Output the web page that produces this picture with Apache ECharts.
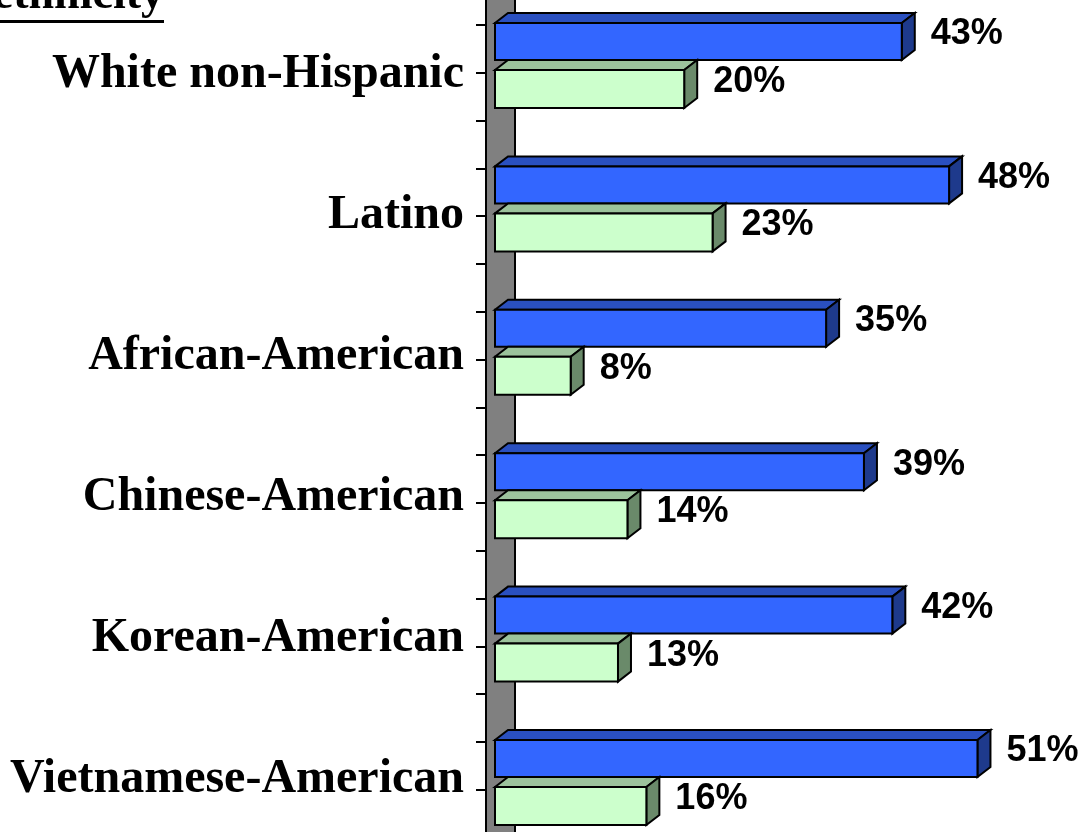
<!DOCTYPE html>
<html>
<head>
<meta charset="utf-8">
<script src="https://cdn.jsdelivr.net/npm/echarts@6/dist/echarts.min.js"></script>
<style>
  html, body { margin: 0; padding: 0; background: #fff; }
  #chart { width: 1090px; height: 832px; }
</style>
</head>
<body>
<div id="chart"></div>
<script>
var categories = ['White non-Hispanic', 'Latino', 'African-American', 'Chinese-American', 'Korean-American', 'Vietnamese-American'];
var blueValues = [43, 48, 35, 39, 42, 51];
var greenValues = [20, 23, 8, 14, 13, 16];
var tickSlots = 17;

var chart = echarts.init(document.getElementById('chart'));

// 3D-looking bar: front rect + top face + side face + value label
function makeBar(front, topColor, side, offTop, offH) {
    return function (params, api) {
        var cat = api.value(0);
        var val = api.value(1);
        var k = api.size([0, 1])[1] / 143.4;
        var p0 = api.coord([0, cat]);
        var p1 = api.coord([val, cat]);
        var x0 = p0[0], x1 = p1[0];
        var y0 = p0[1] + offTop * k;
        var y1 = y0 + offH * k;
        var dx = 13, dy = -10;
        var edge = { stroke: '#000', lineWidth: 2 };
        return {
            type: 'group',
            children: [{
                type: 'polygon',
                shape: { points: [[x0, y0], [x0 + dx, y0 + dy], [x1 + dx, y0 + dy], [x1, y0]] },
                style: Object.assign({ fill: topColor }, edge)
            }, {
                type: 'polygon',
                shape: { points: [[x1, y0], [x1 + dx, y0 + dy], [x1 + dx, y1 + dy], [x1, y1]] },
                style: Object.assign({ fill: side }, edge)
            }, {
                type: 'rect',
                shape: { x: x0, y: y0, width: x1 - x0, height: y1 - y0 },
                style: Object.assign({ fill: front }, edge)
            }, {
                type: 'text',
                x: x1 + 29,
                y: (y0 + y1) / 2 - 7,
                style: {
                    text: val + '%',
                    font: 'bold 36px "Liberation Sans", Arial, sans-serif',
                    fill: '#000',
                    align: 'left', textAlign: 'left',
                    verticalAlign: 'middle', textVerticalAlign: 'middle'
                }
            }]
        };
    };
}

// gray side wall behind the bars
function renderWall(params, api) {
    var cs = params.coordSys;
    var x0 = api.coord([0, 0])[0];
    return {
        type: 'rect',
        shape: { x: x0 - 9, y: cs.y - 12, width: 29, height: cs.height + 24 },
        style: { fill: '#808080', stroke: '#000', lineWidth: 2 }
    };
}

var option = {
    backgroundColor: '#fff',
    animation: false,
    grid: [
        { left: 495, top: 3.3, width: 567.6, height: 860.4, outerBoundsMode: 'none', containLabel: false },
        { left: 486, top: 25, width: 10, height: 47.8 * tickSlots, outerBoundsMode: 'none', containLabel: false },
        { left: 495, top: 4.5, width: 10, height: 846, outerBoundsMode: 'none', containLabel: false }
    ],
    xAxis: [
        { gridIndex: 0, type: 'value', min: 0, max: 60, show: false },
        { gridIndex: 1, type: 'value', show: false },
        { gridIndex: 2, type: 'value', show: false }
    ],
    yAxis: [{
        gridIndex: 0,
        type: 'category',
        inverse: true,
        data: categories,
        show: false
    }, {
        gridIndex: 1,
        type: 'value',
        min: 0,
        max: tickSlots,
        interval: 1,
        axisLine: { show: false },
        axisTick: { show: true, length: 10, lineStyle: { color: '#000', width: 2 } },
        axisLabel: { show: false },
        splitLine: { show: false }
    }, {
        gridIndex: 2,
        type: 'category',
        inverse: true,
        data: categories,
        axisLine: { show: false },
        axisTick: { show: false },
        axisLabel: {
            interval: 0,
            margin: 31,
            color: '#000',
            fontSize: 48,
            fontWeight: 'bold',
            fontFamily: '"Liberation Serif", "Times New Roman", serif'
        }
    }],
    graphic: [{
        type: 'text',
        x: 164,
        y: -4,
        style: {
            text: 'ethnicity',
            font: 'bold 46px "Liberation Serif", "Times New Roman", serif',
            fill: '#000',
            align: 'right', textAlign: 'right',
            verticalAlign: 'middle', textVerticalAlign: 'middle'
        }
    }, {
        type: 'line',
        shape: { x1: 0, y1: 21.5, x2: 164, y2: 21.5 },
        style: { stroke: '#000', lineWidth: 3 }
    }],
    series: [{
        name: 'wall',
        type: 'custom',
        xAxisIndex: 0,
        yAxisIndex: 0,
        z: 1,
        clip: false,
        renderItem: renderWall,
        data: [[0, 0]],
        encode: { x: 1, y: 0 }
    }, {
        name: 'Series 1',
        type: 'custom',
        xAxisIndex: 0,
        yAxisIndex: 0,
        z: 2,
        clip: false,
        renderItem: makeBar('#3366FF', '#2A50C0', '#1E3A8C', -52, 37),
        data: blueValues.map(function (v, i) { return [i, v]; }),
        encode: { x: 1, y: 0 }
    }, {
        name: 'Series 2',
        type: 'custom',
        xAxisIndex: 0,
        yAxisIndex: 0,
        z: 2,
        clip: false,
        renderItem: makeBar('#CCFFCC', '#9CC39C', '#6A8A6A', -5, 38),
        data: greenValues.map(function (v, i) { return [i, v]; }),
        encode: { x: 1, y: 0 }
    }]
};

chart.setOption(option);
</script>
</body>
</html>
